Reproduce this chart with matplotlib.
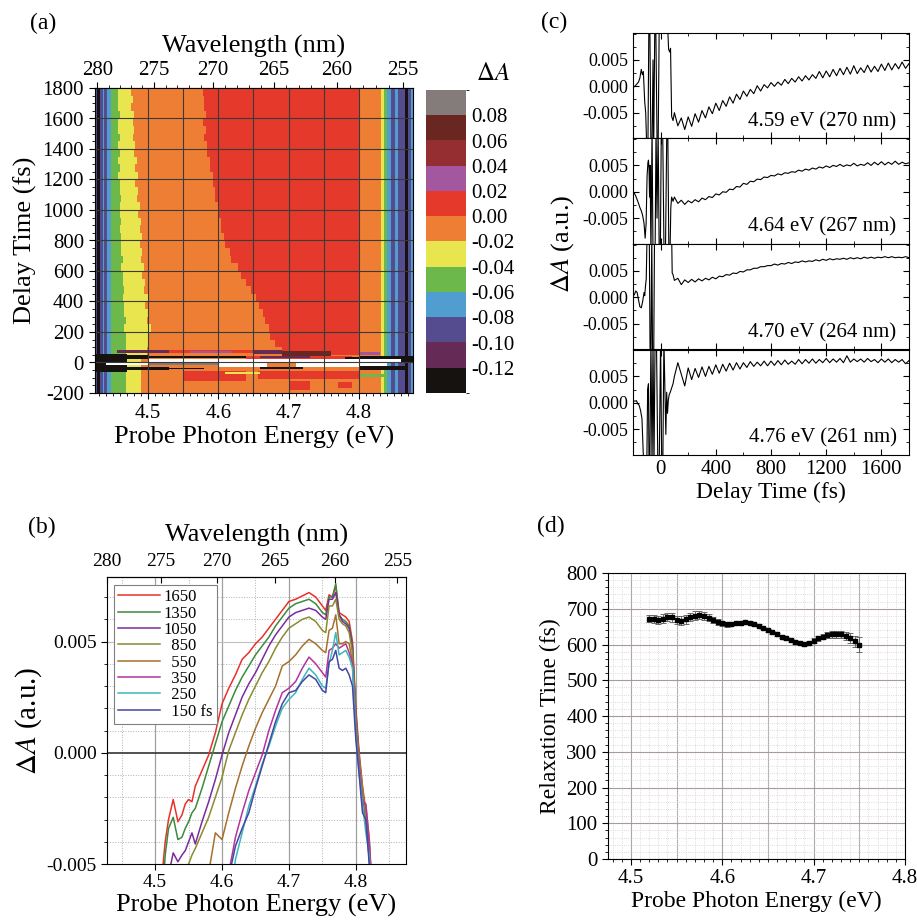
import numpy as np
import matplotlib
matplotlib.use("Agg")
import matplotlib.pyplot as plt
from matplotlib.colors import ListedColormap, BoundaryNorm
from matplotlib.ticker import MultipleLocator, FixedLocator
import matplotlib.cm as cm

plt.rcParams['font.family'] = ['Liberation Serif', 'DejaVu Serif']
plt.rcParams['mathtext.fontset'] = 'stix'
plt.rcParams['axes.unicode_minus'] = False

HC = 1239.84  # eV nm

# ---------------- (a) transient absorption map ----------------
level_edges = [-0.14, -0.12, -0.10, -0.08, -0.06, -0.04, -0.02, 0.00, 0.02, 0.04, 0.06, 0.08, 0.10]
level_colors = ['#15120f', '#652a55', '#554b8f', '#4f9ecf', '#6db84a', '#e8e54f',
                '#ee7e33', '#e5392c', '#a3579e', '#942e30', '#6a2620', '#847b7b']
cbar_ticks = [-0.12, -0.10, -0.08, -0.06, -0.04, -0.02, 0.00, 0.02, 0.04, 0.06, 0.08]

# rows above time zero, lower edge of each 50 fs row
row_start = list(range(50, 1800, 50))
green_end = [4.468, 4.467, 4.468, 4.466, 4.467, 4.465, 4.466, 4.464, 4.465, 4.463,
             4.464, 4.462, 4.463, 4.462, 4.461, 4.462, 4.460, 4.461, 4.460, 4.459,
             4.461, 4.459, 4.460, 4.458, 4.459, 4.458, 4.460, 4.458, 4.459, 4.457,
             4.458, 4.459, 4.457, 4.458, 4.457]
yellow_end = [4.497, 4.502, 4.499, 4.503, 4.498, 4.500, 4.496, 4.499, 4.494, 4.496,
              4.492, 4.494, 4.490, 4.492, 4.488, 4.491, 4.487, 4.489, 4.485, 4.488,
              4.484, 4.486, 4.482, 4.485, 4.481, 4.483, 4.479, 4.482, 4.478, 4.480,
              4.477, 4.479, 4.476, 4.478, 4.476]
red_start = [4.690, 4.679, 4.674, 4.671, 4.666, 4.663, 4.658, 4.654, 4.645, 4.639,
             4.631, 4.627, 4.618, 4.615, 4.609, 4.608, 4.604, 4.603, 4.599, 4.599,
             4.595, 4.595, 4.591, 4.591, 4.587, 4.588, 4.584, 4.584, 4.580, 4.581,
             4.578, 4.581, 4.579, 4.580, 4.577]
red_end = 4.801
orange_end = 4.832
left_bounds = [4.428, 4.431, 4.435, 4.438, 4.442, 4.447]
left_vals = [-0.09, -0.13, -0.09, -0.07, -0.09, -0.07]
right_bounds = [4.836, 4.840, 4.846, 4.852, 4.856, 4.865, 4.869, 4.873]
right_vals = [-0.03, -0.05, -0.07, -0.09, -0.07, -0.09, -0.13, -0.09, -0.07]
# time-zero artefact: (t0, t1, E0, E1, dA)  None = off scale (white)
artefact = [
    (65, 85, 4.455, 4.53, -0.11),
    (60, 80, 4.53, 4.65, 0.01),
    (62, 75, 4.56, 4.62, 0.03),
    (55, 80, 4.65, 4.69, -0.11),
    (45, 75, 4.69, 4.76, 0.07),
    (50, 75, 4.76, 4.80, 0.01),
    (50, 70, 4.80, 4.83, 0.03),
    (-60, 55, 4.424, 4.47, -0.13),
    (25, 50, 4.47, 4.50, -0.13),
    (28, 45, 4.50, 4.60, -0.13),
    (32, 42, 4.60, 4.64, -0.13),
    (20, 45, 4.64, 4.79, 0.01),
    (30, 42, 4.66, 4.73, -0.11),
    (10, 35, 4.78, 4.80, -0.13),
    (0, 40, 4.80, 4.879, -0.13),
    (5, 20, 4.50, 4.86, None),
    (-15, -5, 4.44, 4.50, None),
    (-15, 5, 4.50, 4.60, 0.09),
    (-30, 5, 4.60, 4.67, None),
    (-30, 5, 4.71, 4.80, None),
    (-25, 0, 4.80, 4.84, None),
    (-50, -30, 4.47, 4.53, -0.13),
    (-45, -35, 4.53, 4.58, -0.13),
    (-45, -30, 4.66, 4.72, -0.13),
    (-50, -25, 4.80, 4.87, -0.13),
    (-120, -55, 4.55, 4.64, 0.01),
    (-110, -55, 4.655, 4.80, 0.01),
    (-75, -60, 4.61, 4.66, -0.03),
    (-95, -75, 4.80, 4.84, -0.05),
    (-180, -120, 4.70, 4.73, 0.01),
    (-170, -130, 4.77, 4.79, 0.01),
]
wl_ticks = [280, 275, 270, 265, 260, 255]

# ---------------- (b) spectra ----------------
E_b = [4.505, 4.51, 4.515, 4.52, 4.527, 4.534, 4.54, 4.545, 4.55, 4.555,
       4.56, 4.57, 4.58, 4.59, 4.60, 4.61, 4.62, 4.63, 4.64, 4.65,
       4.66, 4.67, 4.68, 4.69, 4.70, 4.71, 4.72, 4.73, 4.74, 4.75,
       4.755, 4.76, 4.765, 4.77, 4.775, 4.78, 4.785, 4.79, 4.795, 4.80,
       4.805, 4.81, 4.815, 4.82, 4.825]
spec_labels = ['1650', '1350', '1050', '  850', '  550', '  350', '  250', '  150 fs']
spec_colors = ['#e8312a', '#3d8a3d', '#7b2c9c', '#8c8a30', '#a5702c', '#b4339c', '#3cb8b8', '#4545a5']
spec_1650 = [-7, -5.6, -4.0, -3.0, -2.1, -3.1, -2.8, -2.3, -2.1, -2.2,
             -1.5, -0.8, -0.1, 0.9, 2.2, 2.9, 3.5, 4.2, 4.5, 4.9,
             5.2, 5.6, 6.0, 6.4, 6.8, 6.9, 7.05, 7.2, 7.0, 6.6,
             6.4, 7.1, 7.0, 7.5, 6.3, 6.2, 6.1, 5.9, 5.0, 2.0,
             0.0, -1.5, -2.6, -4.8, -6.5]
spec_1350 = [-7, -7, -4.6, -3.4, -2.9, -3.9, -3.8, -3.4, -3.1, -2.7,
             -2.5, -1.6, -0.6, 0.4, 1.4, 2.1, 2.8, 3.4, 3.9, 4.4,
             4.8, 5.2, 5.7, 6.1, 6.5, 6.7, 6.8, 6.9, 6.7, 6.3,
             6.2, 7.0, 7.0, 7.6, 6.2, 6.0, 5.9, 5.7, 4.8, 1.8,
             -0.2, -1.8, -2.8, -4.5, -6.5]
spec_1050 = [-7, -7, -7, -5.5, -4.5, -4.9, -4.6, -4.4, -4.0, -3.6,
             -4.1, -3.1, -2.2, -1.2, -0.1, 0.9, 1.7, 2.5, 3.1, 3.6,
             4.2, 4.8, 5.3, 5.7, 6.1, 6.3, 6.4, 6.5, 6.4, 6.1,
             6.0, 6.9, 6.9, 7.2, 6.2, 5.9, 5.8, 5.6, 4.7, 1.6,
             -0.3, -2.0, -3.0, -4.3, -6.5]
spec_850 = [-7, -7, -7, -7, -7, -7, -7, -6.0, -5.0, -4.6,
            -4.3, -3.6, -2.9, -2.0, -1.1, 0.1, 0.9, 1.7, 2.4, 3.0,
            3.6, 4.1, 4.7, 5.2, 5.6, 5.8, 6.0, 6.1, 5.9, 5.5,
            5.4, 6.6, 6.6, 6.9, 6.0, 5.8, 5.7, 5.4, 4.5, 1.5,
            -0.2, -1.6, -2.9, -4.0, -6.5]
spec_550 = [-7, -7, -7, -7, -7, -7, -7, -7, -7, -7,
            -7, -7, -5.4, -3.6, -3.9, -2.7, -1.6, -0.6, 0.3, 1.1,
            1.8, 2.4, 3.0, 3.9, 4.1, 4.4, 4.8, 5.1, 4.9, 4.6,
            4.5, 5.5, 5.6, 6.2, 4.9, 4.9, 5.0, 4.9, 4.1, 1.2,
            -0.4, -2.0, -2.4, -3.8, -6.5]
spec_350 = [-7, -7, -7, -7, -7, -7, -7, -7, -7, -7,
            -7, -7, -7, -7, -7, -5.4, -3.8, -2.7, -1.7, -0.9,
            -0.1, 1.0, 1.9, 2.7, 2.9, 3.2, 3.8, 4.3, 4.0, 3.6,
            3.4, 4.6, 4.7, 4.9, 4.7, 4.8, 4.9, 4.5, 4.0, 1.0,
            -0.6, -2.2, -2.3, -4.0, -6.5]
spec_250 = [-7, -7, -7, -7, -7, -7, -7, -7, -7, -7,
            -7, -7, -7, -7, -7, -7, -4.8, -3.6, -2.4, -1.5,
            -0.5, 0.3, 1.2, 2.0, 2.4, 2.7, 3.3, 3.8, 3.5, 3.0,
            2.9, 4.0, 4.6, 5.4, 4.4, 4.5, 4.6, 4.3, 3.8, 0.8,
            -0.9, -2.3, -3.6, -4.6, -6.5]
spec_150 = [-7, -7, -7, -7, -7, -7, -7, -7, -7, -7,
            -7, -7, -7, -7, -7, -5.6, -4.2, -3.4, -2.7, -1.6,
            -0.6, 0.4, 1.4, 2.2, 2.7, 2.8, 3.2, 3.5, 3.3, 2.8,
            2.7, 4.1, 4.2, 4.6, 3.8, 3.7, 3.8, 3.5, 3.0, 0.6,
            -1.0, -2.7, -3.0, -5.0, -6.5]
spectra = [spec_1650, spec_1350, spec_1050, spec_850, spec_550, spec_350, spec_250, spec_150]

# ---------------- (c) kinetic traces (dA in 1e-3) ----------------
trace_labels = ['4.59 eV (270 nm)', '4.64 eV (267 nm)', '4.70 eV (264 nm)', '4.76 eV (261 nm)']
t_post = list(range(100, 1801, 25))
tr1_pre_t = [-200, -190, -180, -170, -160, -150, -140, -132, -125, -115, -108, -100, -92, -85, -78,
             -70, -62, -55, -50, -42, -35, -25, -18, -10, 0, 10, 20, 30, 40, 50, 58, 66, 72, 80, 90]
tr1_pre_v = [0.0, -0.1, 0.2, 0.5, 0.8, 1.6, 3.2, 2.2, 2.8, -3.0, -5.0, -12, -12, 12, 12,
             -12, -12, 5, -12, 12, 12, -12, -12, 12, 12, 12, 12, 12, 12, 12, 7.0, 6.5, 7.2, -5.7, -6.5]
tr1_post = [-5.0, -7.5, -6.0, -8.2, -5.8, -7.6, -5.2, -6.8, -4.6, -6.0,
            -3.9, -5.2, -3.2, -4.6, -2.7, -3.8, -2.0, -3.2, -1.5, -2.5,
            -0.9, -1.9, -0.6, -1.4, 0.1, -0.9, 0.3, -0.3, 0.7, 0.0,
            0.8, 0.2, 1.3, 0.5, 1.5, 0.8, 1.8, 1.0, 2.0, 1.2,
            2.2, 1.5, 2.8, 1.6, 2.9, 1.8, 3.2, 2.0, 3.4, 2.2,
            3.6, 2.3, 3.9, 2.4, 3.5, 2.6, 4.0, 2.7, 3.8, 2.8,
            4.2, 3.0, 4.4, 3.1, 4.3, 3.3, 4.6, 3.4, 4.3]
tr2_pre_t = [-200, -190, -180, -170, -160, -150, -140, -130, -120, -112, -105, -98, -92, -88, -84,
             -80, -76, -70, -62, -55, -48, -40, -33, -26, -18, -10, -2, 5, 15, 25, 35, 45, 52, 60,
             68, 74, 80, 90]
tr2_pre_v = [0.0, -0.3, -0.8, -1.5, -2.2, -3.0, -3.6, -4.5, -6.0, -8.8, -6.0, 3.0, 5.5, 6.0, 4.5,
             -1.0, 5.0, -12, 12, -12, -12, -12, 12, -5, 12, -12, -12, 12, 12, -12, -12, 12, 12, -12,
             -12, -3.0, -1.0, -1.8]
tr2_post = [-1.0, -2.2, -1.6, -2.4, -1.7, -2.1, -1.5, -1.9, -1.2, -1.5,
            -0.9, -1.1, -0.4, -0.6, 0.0, -0.1, 0.5, 0.4, 1.0, 0.9,
            1.6, 1.4, 2.0, 1.9, 2.4, 2.3, 2.8, 2.7, 3.1, 3.0,
            3.4, 3.2, 3.6, 3.5, 3.8, 3.7, 4.1, 3.9, 4.3, 4.1,
            4.5, 4.3, 4.7, 4.5, 4.9, 4.6, 5.0, 4.8, 5.2, 4.8,
            5.1, 4.9, 5.4, 4.9, 5.2, 5.0, 5.5, 5.0, 5.6, 5.1,
            5.7, 5.1, 5.6, 5.2, 5.8, 5.2, 5.6, 5.3, 5.5]
tr3_pre_t = [-200, -190, -180, -170, -160, -150, -140, -130, -120, -115, -110, -104, -98, -90,
             -82, -76, -70, -64, -58, -50, -44, -38, -30, 0, 40, 80, 84, 90]
tr3_pre_v = [0.3, 0.5, 1.2, 0.9, -0.5, -1.8, -2.0, -0.8, 0.9, 0.3, 2.0, 3.5, 12, 12,
             12, -12, -12, 12, -12, -12, 12, 12, 12, 12, 12, 12, 4.6, 4.3]
tr3_post = [3.2, 3.6, 2.4, 3.3, 2.8, 3.4, 2.9, 3.5, 3.1, 3.6,
            3.3, 3.8, 3.5, 4.0, 3.9, 4.3, 4.2, 4.6, 4.5, 4.9,
            4.8, 5.2, 5.2, 5.5, 5.5, 5.8, 5.8, 6.0, 6.0, 6.3,
            6.1, 6.4, 6.3, 6.6, 6.4, 6.7, 6.6, 6.9, 6.7, 6.9,
            6.8, 7.1, 6.9, 7.2, 7.0, 7.3, 7.1, 7.3, 7.2, 7.4,
            7.2, 7.5, 7.3, 7.5, 7.3, 7.6, 7.4, 7.6, 7.4, 7.6,
            7.5, 7.7, 7.5, 7.7, 7.5, 7.6, 7.5, 7.7, 7.5]
tr4_pre_t = [-200, -185, -175, -165, -155, -145, -135, -128, -122, -115, -108, -100, -94, -88, -84,
             -78, -70, -62, -55, -48, -40, -30, -20, -10, 0, 8, 16, 24, 32, 38, 44, 50, 56, 62,
             70, 80, 90]
tr4_pre_v = [0.4, 0.3, 0.4, -0.2, -0.5, -1.5, -3.0, -8, -12, -12, -12, -12, 2.5, 3.6, -12,
             -12, 12, -12, 12, -12, 12, 12, -12, -12, 12, -12, -12, 12, 1.5, -6.0, 2.0, -2.0, 0.5, 1.5,
             2.0, 2.8, 3.6]
tr4_post = [5.0, 7.6, 5.4, 3.2, 6.6, 4.4, 6.5, 4.8, 6.8, 5.0,
            6.9, 5.4, 7.2, 5.6, 7.3, 6.0, 7.5, 6.2, 7.6, 6.4,
            7.6, 6.7, 7.8, 6.9, 7.7, 7.0, 7.9, 7.0, 7.9, 7.1,
            8.0, 7.2, 8.1, 7.3, 7.9, 7.3, 8.2, 7.4, 8.2, 7.5,
            8.3, 7.5, 8.2, 7.6, 8.4, 7.6, 8.3, 7.7, 8.4, 7.6,
            8.9, 7.7, 8.3, 7.8, 8.3, 7.7, 8.4, 7.8, 8.2, 7.6,
            8.3, 7.7, 8.3, 7.6, 8.2, 7.7, 8.2, 7.4, 8.0]
traces = [(tr1_pre_t, tr1_pre_v, tr1_post), (tr2_pre_t, tr2_pre_v, tr2_post),
          (tr3_pre_t, tr3_pre_v, tr3_post), (tr4_pre_t, tr4_pre_v, tr4_post)]

# ---------------- (d) relaxation time ----------------
E_d = [4.520, 4.525, 4.530, 4.535, 4.540, 4.545, 4.550, 4.555, 4.560, 4.565,
       4.570, 4.575, 4.580, 4.585, 4.590, 4.595, 4.600, 4.605, 4.610, 4.615,
       4.620, 4.625, 4.630, 4.635, 4.640, 4.645, 4.650, 4.655, 4.660, 4.665,
       4.670, 4.675, 4.680, 4.685, 4.690, 4.695, 4.700, 4.705, 4.710, 4.715,
       4.720, 4.725, 4.730, 4.735, 4.740, 4.745, 4.750]
tau = [672, 671, 668, 672, 677, 676, 669, 667, 670, 677,
       681, 683, 680, 675, 669, 663, 659, 656, 657, 659,
       661, 662, 661, 657, 652, 646, 640, 634, 628, 622,
       617, 612, 607, 603, 601, 605, 611, 617, 622, 626,
       628, 629, 628, 624, 617, 609, 600]
tau_err = [10, 11, 12, 12, 12, 12, 11, 12, 12, 12,
           12, 12, 11, 10, 9, 8, 7, 6, 5, 5,
           4, 4, 4, 4, 4, 4, 4, 4, 4, 4,
           4, 4, 5, 5, 5, 6, 6, 7, 8, 8,
           9, 10, 11, 12, 14, 16, 20]


def ev_to_nm(x):
    x = np.asarray(x, dtype=float)
    with np.errstate(divide='ignore', invalid='ignore'):
        return HC / x


W, H = 917, 922
fig = plt.figure(figsize=(W / 100, H / 100), dpi=100)


def box(l, t, r, b):
    return [l / W, 1 - b / H, (r - l) / W, (b - t) / H]


# ---- panel (a)
ax_a = fig.add_axes(box(95, 88, 413, 393))
E_edges = np.arange(4.424, 4.879, 0.002)
t_edges = np.arange(-200, 1805, 5)
Ec = 0.5 * (E_edges[1:] + E_edges[:-1])
tc = 0.5 * (t_edges[1:] + t_edges[:-1])
Z = np.empty((len(tc), len(Ec)))
for i, t in enumerate(tc):
    if t >= 50:
        k = min(int((t - 50) // 50), len(row_start) - 1)
        ge, ye, rs = green_end[k], yellow_end[k], red_start[k]
    else:
        ge, ye, rs = 4.468, 4.490, 9.0
    row = np.full(Ec.shape, -0.01)
    row[Ec < ye] = -0.03
    row[Ec < ge] = -0.05
    left = Ec < left_bounds[-1]
    row[left] = np.array(left_vals)[np.digitize(Ec[left], left_bounds)]
    row[(Ec >= rs) & (Ec < red_end)] = 0.01
    right = Ec >= orange_end
    row[right] = np.array(right_vals)[np.clip(np.digitize(Ec[right], right_bounds), 0, len(right_vals) - 1)]
    Z[i] = row
for t0, t1, e0, e1, v in artefact:
    mt = (tc >= t0) & (tc < t1)
    me = (Ec >= e0) & (Ec < e1)
    Z[np.ix_(mt, me)] = np.nan if v is None else v

cmap = ListedColormap(level_colors)
norm = BoundaryNorm(level_edges, cmap.N)
ax_a.pcolormesh(E_edges, t_edges, np.ma.masked_invalid(Z), cmap=cmap, norm=norm, shading='flat')
for x in np.arange(4.5, 4.81, 0.05):
    ax_a.axvline(x, color='#3a3a3a', lw=0.8)
for y in range(0, 1800, 200):
    ax_a.axhline(y, color='#3a3a3a', lw=0.8)
ax_a.set_xlim(4.4246, 4.877)
ax_a.set_ylim(-200, 1800)
ax_a.xaxis.set_major_locator(FixedLocator([4.5, 4.6, 4.7, 4.8]))
ax_a.xaxis.set_minor_locator(MultipleLocator(0.01))
ax_a.yaxis.set_major_locator(MultipleLocator(200))
ax_a.yaxis.set_minor_locator(MultipleLocator(50))
ax_a.tick_params(labelsize=15, direction='out', length=4, pad=4)
ax_a.tick_params(which='minor', direction='out', length=2)
ax_a.set_xlabel('Probe Photon Energy (eV)', fontsize=19, labelpad=2)
ax_a.set_ylabel('Delay Time (fs)', fontsize=19, labelpad=4)
sec_a = ax_a.secondary_xaxis('top', functions=(ev_to_nm, ev_to_nm))
sec_a.xaxis.set_major_locator(FixedLocator(wl_ticks))
sec_a.xaxis.set_minor_locator(MultipleLocator(1))
sec_a.tick_params(labelsize=15, direction='out', length=4, pad=2)
sec_a.tick_params(which='minor', length=2)
sec_a.set_xlabel('Wavelength (nm)', fontsize=19, labelpad=6)

cax = fig.add_axes(box(426, 90, 466, 393))
cb = fig.colorbar(cm.ScalarMappable(norm=norm, cmap=cmap), cax=cax, ticks=cbar_ticks)
cb.outline.set_visible(False)
cb.ax.tick_params(length=0, labelsize=15, pad=4)
cb.ax.set_yticklabels(['%.2f' % v for v in cbar_ticks])
fig.text(493 / W, 1 - 74 / H, r'$\Delta A$', fontsize=18, ha='center', va='center')

# ---- panel (b)
ax_b = fig.add_axes(box(107, 577, 406, 864))
for x in [4.45, 4.55, 4.65, 4.75, 4.85]:
    ax_b.axvline(x, color='#b0b0b0', lw=0.7, ls=':')
for x in [4.5, 4.6, 4.7, 4.8]:
    ax_b.axvline(x, color='#a0a0a0', lw=0.9)
for y in [-0.004, -0.003, -0.002, -0.001, 0.001, 0.002, 0.003, 0.004, 0.006, 0.007]:
    ax_b.axhline(y, color='#b0b0b0', lw=0.7, ls=':')
ax_b.axhline(0.005, color='#c0c0c0', lw=0.8)
ax_b.axhline(0.0, color='#333333', lw=1.2)
for vals, lab, col in zip(spectra, spec_labels, spec_colors):
    ax_b.plot(E_b, np.array(vals) * 1e-3, color=col, lw=1.1, label=lab)
ax_b.set_xlim(4.428, 4.875)
ax_b.set_ylim(-0.005, 0.0079)
ax_b.set_xticks([4.5, 4.6, 4.7, 4.8])
ax_b.set_yticks([-0.005, 0.0, 0.005])
ax_b.set_yticklabels(['-0.005', '0.000', '0.005'])
ax_b.yaxis.set_minor_locator(MultipleLocator(0.001))
ax_b.tick_params(labelsize=14, direction='out', length=4)
ax_b.tick_params(which='minor', direction='out', length=2)
ax_b.set_xlabel('Probe Photon Energy (eV)', fontsize=19, labelpad=2)
ax_b.set_ylabel(r'$\Delta A$ (a.u.)', fontsize=21, labelpad=2)
sec_b = ax_b.secondary_xaxis('top', functions=(ev_to_nm, ev_to_nm))
sec_b.xaxis.set_major_locator(FixedLocator(wl_ticks))
sec_b.tick_params(labelsize=14, direction='in', length=4, pad=5)
sec_b.set_xlabel('Wavelength (nm)', fontsize=19, labelpad=8)
leg = ax_b.legend(loc='upper left', bbox_to_anchor=(0.023, 0.972), borderaxespad=0, fontsize=12,
                  handlelength=2.5, handletextpad=0.2, labelspacing=0.02, borderpad=0.25,
                  fancybox=False, framealpha=1, edgecolor='#808080')
leg.get_frame().set_linewidth(0.8)

# ---- panel (c)
top, step = 33, 105.5
axes_c = []
for i, ((pt, pv, post), lab) in enumerate(zip(traces, trace_labels)):
    ax = fig.add_axes(box(633, top + i * step, 909, top + (i + 1) * step))
    tt = list(pt) + t_post
    vv = (np.array(list(pv) + list(post))) * 1e-3
    ax.plot(tt, vv, color='black', lw=0.8)
    ax.set_xlim(-200, 1800)
    ax.set_ylim(-0.0099, 0.0101)
    ax.set_yticks([-0.005, 0.0, 0.005])
    ax.set_yticklabels(['-0.005', '0.000', '0.005'])
    ax.yaxis.set_minor_locator(MultipleLocator(0.0025))
    ax.xaxis.set_major_locator(MultipleLocator(400))
    ax.xaxis.set_minor_locator(MultipleLocator(200))
    ax.tick_params(which='both', direction='in', top=True, right=True, labelsize=13)
    ax.tick_params(which='major', length=4)
    ax.tick_params(which='minor', length=2.5)
    ax.text(0.955, 0.07, lab, transform=ax.transAxes, ha='right', va='bottom', fontsize=15)
    if i < 3:
        ax.tick_params(labelbottom=False)
    axes_c.append(ax)
axes_c[-1].tick_params(axis='x', labelsize=15)
axes_c[-1].set_xlabel('Delay Time (fs)', fontsize=17, labelpad=2)
fig.text(563 / W, 1 - 244 / H, r'$\Delta A$ (a.u.)', fontsize=19, rotation=90, ha='center', va='center')

# ---- panel (d)
ax_d = fig.add_axes(box(608, 573, 905, 859))
ax_d.set_xlim(4.475, 4.8)
ax_d.set_ylim(0, 800)
ax_d.set_xticks([4.5, 4.6, 4.7, 4.8])
ax_d.xaxis.set_minor_locator(MultipleLocator(0.01))
ax_d.yaxis.set_major_locator(MultipleLocator(100))
ax_d.yaxis.set_minor_locator(MultipleLocator(20))
ax_d.grid(which='minor', color='#d0d0d0', lw=0.6, ls=':')
ax_d.grid(which='major', axis='y', color='#a89a9a', lw=0.8)
for x in [4.5, 4.55, 4.6, 4.65, 4.7, 4.75]:
    ax_d.axvline(x, color='#a8a8a8', lw=0.8, zorder=0.5)
ax_d.set_axisbelow(True)
ax_d.errorbar(E_d, tau, yerr=tau_err, fmt='s', ms=3.2, color='black', ecolor='#555555',
              elinewidth=0.6, capsize=2, capthick=0.6)
ax_d.tick_params(labelsize=15, direction='out', length=4)
ax_d.tick_params(which='minor', direction='out', length=2)
ax_d.set_xlabel('Probe Photon Energy (eV)', fontsize=17, labelpad=2)
ax_d.set_ylabel('Relaxation Time (fs)', fontsize=17, labelpad=4)

# panel letters
for txt, x, y in [('(a)', 30, 23), ('(b)', 28, 527), ('(c)', 541, 22), ('(d)', 537, 526)]:
    fig.text(x / W, 1 - y / H, txt, fontsize=17, ha='left', va='center')

fig.savefig('out.png', dpi=100)
